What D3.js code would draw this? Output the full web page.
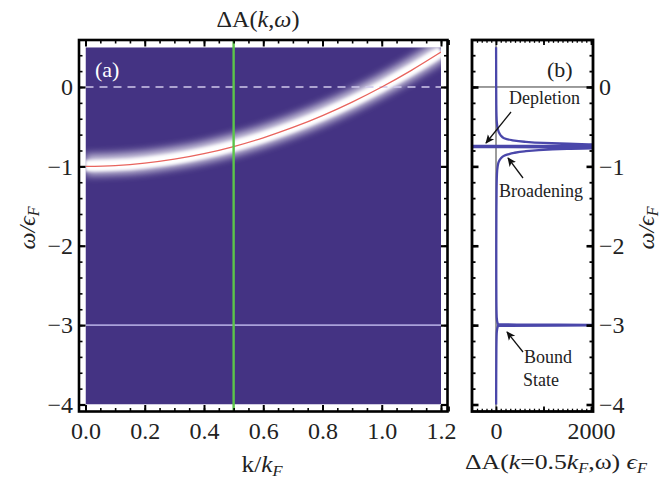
<!DOCTYPE html>
<html><head><meta charset="utf-8">
<script src="https://cdn.jsdelivr.net/npm/d3@7/dist/d3.min.js"></script>
<style>
html,body{margin:0;padding:0;background:#fff;}
svg{display:block;}
</style></head><body>
<svg id="chart" width="661" height="487"></svg>
<script>
// ---------- data ----------
const kVals        = [0, 0.1, 0.2, 0.3, 0.4, 0.5, 0.6, 0.7, 0.8, 0.9, 1.0, 1.1, 1.2];
const omegaDisp    = [-1.0, -0.99, -0.96, -0.91, -0.84, -0.75, -0.64, -0.51, -0.36, -0.19, 0.0, 0.21, 0.44];
const kCut         = 0.5;
const boundOmega   = -3;
const fermiOmega   = 0;
const omegaCut     = [0.5, 0.2, 0.0, -0.2, -0.35, -0.45, -0.52, -0.57, -0.61, -0.645, -0.67, -0.69, -0.705, -0.72, -0.735, -0.75, -0.765, -0.78, -0.795, -0.81, -0.83, -0.85, -0.87, -0.9, -0.94, -1.0, -1.1, -1.3, -1.6, -2.0, -2.4, -2.7, -2.9, -2.99, -3.0, -3.01, -3.1, -3.3, -3.6, -4.0];
const deltaA       = [2, 3, 4, 6, 10, 18, 35, 60, 100, 170, 330, 600, 1000, 1800, 2600, -2600, 2600, 1500, 900, 600, 380, 250, 160, 100, 60, 35, 20, 12, 8, 6, 6, 8, 15, 40, 2600, 40, 15, 8, 5, 3];
const kTicks       = [0, 0.2, 0.4, 0.6, 0.8, 1.0, 1.2];
const kMinor       = d3.range(0, 1.2001, 0.05);
const omegaTicks   = [0, -1, -2, -3, -4];
const omegaMinor   = d3.range(-4, 0.5001, 0.2);
const dATicks      = [0, 2000];
const dAMajor      = [-1000, 0, 1000, 2000];
const dAMinor      = d3.range(-400, 2001, 100);

// ---------- layout ----------
const SERIF = "Liberation Serif";
const INK = "#222";
const svg = d3.select("#chart");
const frameA = {l: 79, r: 447.5, t: 40, b: 411.5};
const frameB = {l: 472, r: 593, t: 40, b: 411.5};
const xA = d3.scaleLinear([0, 1.2], [85.5, 441]);
const yW = d3.scaleLinear([-4, 0.5], [404.5, 47.3]);
const xB = d3.scaleLinear([0, 2000], [496, 591]);

const defs = svg.append("defs");
defs.append("clipPath").attr("id", "clipA").append("rect")
  .attr("x", xA(0)).attr("y", yW(0.5)).attr("width", xA(1.2) - xA(0)).attr("height", yW(-4) - yW(0.5));
defs.append("clipPath").attr("id", "clipB").append("rect")
  .attr("x", frameB.l + 1).attr("y", frameB.t + 1).attr("width", frameB.r - frameB.l - 2).attr("height", frameB.b - frameB.t - 2);
const f1 = defs.append("filter").attr("id", "blurWide").attr("x", "-20%").attr("y", "-50%").attr("width", "140%").attr("height", "200%");
f1.append("feGaussianBlur").attr("stdDeviation", 4);
const f2 = defs.append("filter").attr("id", "blurCore").attr("x", "-20%").attr("y", "-50%").attr("width", "140%").attr("height", "200%");
f2.append("feGaussianBlur").attr("stdDeviation", 1.5);
const arrowM = defs.append("marker").attr("id", "arr").attr("viewBox", "0 0 10 10")
  .attr("refX", 9).attr("refY", 5).attr("markerWidth", 9).attr("markerHeight", 9)
  .attr("orient", "auto").attr("markerUnits", "userSpaceOnUse");
arrowM.append("path").attr("d", "M0,0.5 L10,5 L0,9.5 L2.5,5 Z").attr("fill", "#111");

// ---------- panel (a) ----------
const gA = svg.append("g");
const heat = gA.append("g").attr("clip-path", "url(#clipA)");
heat.append("rect").attr("x", xA(0)).attr("y", yW(0.5))
  .attr("width", xA(1.2) - xA(0)).attr("height", yW(-4) - yW(0.5)).attr("fill", "#443383");

const dispPts = kVals.map((k, i) => [xA(k), yW(omegaDisp[i])]);
const lineA = d3.line().curve(d3.curveCatmullRom);
heat.append("path").attr("d", lineA(dispPts)).attr("fill", "none")
  .attr("stroke", "#ffffff").attr("stroke-width", 20).attr("opacity", 0.8)
  .attr("filter", "url(#blurWide)").attr("transform", "translate(0,-1.5)");
heat.append("path").attr("d", lineA(dispPts)).attr("fill", "none")
  .attr("stroke", "#ffffff").attr("stroke-width", 11).attr("filter", "url(#blurCore)")
  .attr("transform", "translate(0,-0.5)");
heat.append("line").attr("x1", xA(0)).attr("x2", xA(1.2)).attr("y1", yW(boundOmega)).attr("y2", yW(boundOmega))
  .attr("stroke", "#aaa2da").attr("stroke-width", 1.8);
heat.append("line").attr("x1", xA(0)).attr("x2", xA(1.2)).attr("y1", yW(fermiOmega)).attr("y2", yW(fermiOmega))
  .attr("stroke", "#cfc9ec").attr("stroke-width", 1.3).attr("stroke-dasharray", "8,6");
heat.append("path").attr("d", lineA(dispPts)).attr("fill", "none")
  .attr("stroke", "#e8645e").attr("stroke-width", 1.3);

gA.append("line").attr("x1", xA(kCut)).attr("x2", xA(kCut)).attr("y1", frameA.t).attr("y2", frameA.b)
  .attr("stroke", "#5bc54a").attr("stroke-width", 2.4);

gA.append("text").attr("x", 95).attr("y", 77).attr("font-size", 22).attr("font-family", SERIF)
  .attr("fill", "#fff").text("(a)");

function ticks(g, axisGen, scale, values, pos, size, w) {
  const ax = g.append("g").attr("transform", pos)
    .call(axisGen(scale).tickValues(values).tickSize(-size).tickFormat(""));
  ax.select(".domain").remove();
  ax.selectAll("line").attr("stroke", "#000").attr("stroke-width", w);
}
function labels(g, axisGen, scale, values, pos, pad, fmt, fs) {
  const ax = g.append("g").attr("transform", pos)
    .call(axisGen(scale).tickValues(values).tickSize(0).tickPadding(pad).tickFormat(fmt));
  ax.select(".domain").remove();
  ax.attr("font-family", SERIF).attr("font-size", fs);
  ax.selectAll("text").attr("font-size", fs).attr("font-family", SERIF).attr("fill", INK);
}
const fmtW = d => d < 0 ? "\u2212" + Math.abs(d) : String(d);

ticks(gA, d3.axisBottom, xA, kMinor, `translate(0,${frameA.b})`, 3.5, 1.6);
ticks(gA, d3.axisBottom, xA, kTicks, `translate(0,${frameA.b})`, 6.5, 2);
ticks(gA, d3.axisTop, xA, kMinor, `translate(0,${frameA.t})`, 3.5, 1.6);
ticks(gA, d3.axisTop, xA, kTicks, `translate(0,${frameA.t})`, 6.5, 2);
ticks(gA, d3.axisLeft, yW, omegaMinor, `translate(${frameA.l},0)`, 3.5, 1.6);
ticks(gA, d3.axisLeft, yW, omegaTicks, `translate(${frameA.l},0)`, 6.5, 2.2);
ticks(gA, d3.axisRight, yW, omegaMinor, `translate(${frameA.r},0)`, 3.5, 1.6);
ticks(gA, d3.axisRight, yW, omegaTicks, `translate(${frameA.r},0)`, 6.5, 2.2);
gA.append("rect").attr("x", frameA.l).attr("y", frameA.t).attr("width", frameA.r - frameA.l).attr("height", frameA.b - frameA.t)
  .attr("fill", "none").attr("stroke", "#000").attr("stroke-width", 2.6);
labels(gA, d3.axisBottom, xA, kTicks, `translate(0,${frameA.b})`, 10.5, d3.format(".1f"), 24);
labels(gA, d3.axisLeft, yW, omegaTicks, `translate(${frameA.l},0)`, 6, fmtW, 24);

// ---------- panel (b) ----------
const gB = svg.append("g");
const plotB = gB.append("g").attr("clip-path", "url(#clipB)");
plotB.append("line").attr("x1", frameB.l).attr("x2", frameB.r).attr("y1", yW(0)).attr("y2", yW(0))
  .attr("stroke", "#222").attr("stroke-width", 0.9);
plotB.append("line").attr("x1", xB(0)).attr("x2", xB(0)).attr("y1", frameB.t).attr("y2", frameB.b)
  .attr("stroke", "#222").attr("stroke-width", 0.9);
const lineB = d3.line().curve(d3.curveMonotoneY);
plotB.append("path").attr("d", lineB(omegaCut.map((w, i) => [xB(deltaA[i]), yW(w)])))
  .attr("fill", "none").attr("stroke", "#4a47aa").attr("stroke-width", 2.3);

ticks(gB, d3.axisBottom, xB, dAMinor, `translate(0,${frameB.b})`, 2.8, 1.3);
ticks(gB, d3.axisBottom, xB, dAMajor, `translate(0,${frameB.b})`, 5, 1.8);
ticks(gB, d3.axisTop, xB, dAMinor, `translate(0,${frameB.t})`, 2.8, 1.3);
ticks(gB, d3.axisTop, xB, dAMajor, `translate(0,${frameB.t})`, 5, 1.8);
ticks(gB, d3.axisLeft, yW, omegaMinor, `translate(${frameB.l},0)`, 3.5, 1.8);
ticks(gB, d3.axisLeft, yW, omegaTicks, `translate(${frameB.l},0)`, 6.5, 2.6);
ticks(gB, d3.axisRight, yW, omegaMinor, `translate(${frameB.r},0)`, 3.5, 1.8);
ticks(gB, d3.axisRight, yW, omegaTicks, `translate(${frameB.r},0)`, 6.5, 2.6);
gB.append("rect").attr("x", frameB.l).attr("y", frameB.t).attr("width", frameB.r - frameB.l).attr("height", frameB.b - frameB.t)
  .attr("fill", "none").attr("stroke", "#000").attr("stroke-width", 2.8);
labels(gB, d3.axisBottom, xB, dATicks, `translate(0,${frameB.b})`, 10.5, d3.format("d"), 24);
labels(gB, d3.axisRight, yW, omegaTicks, `translate(${frameB.r},0)`, 6, fmtW, 24);

const ann = [["(b)", 547, 77, 22], ["Depletion", 509, 104, 18], ["Broadening", 499, 197, 18], ["Bound", 524, 363, 18], ["State", 523, 386, 18]];
gB.selectAll("text.ann").data(ann).enter().append("text").attr("class", "ann")
  .attr("x", d => d[1]).attr("y", d => d[2]).attr("font-size", d => d[3])
  .attr("font-family", SERIF).attr("fill", INK).text(d => d[0]);
const arrows = [[511, 112, 486, 143], [523, 178, 508, 158], [523, 352, 507, 332]];
gB.selectAll("line.arrow").data(arrows).enter().append("line").attr("class", "arrow")
  .attr("x1", d => d[0]).attr("y1", d => d[1]).attr("x2", d => d[2]).attr("y2", d => d[3])
  .attr("stroke", "#111").attr("stroke-width", 1.3).attr("marker-end", "url(#arr)");

// ---------- titles & axis labels ----------
function txt(x, y, fs, sx) {
  return svg.append("text").attr("transform", `translate(${x},${y}) scale(${sx},1)`)
    .attr("text-anchor", "middle").attr("font-size", fs).attr("font-family", SERIF).attr("fill", INK);
}
const t = txt(258, 27, 23, 1.05);
t.append("tspan").text("\u0394A(");
t.append("tspan").attr("font-style", "italic").text("k");
t.append("tspan").text(",");
t.append("tspan").attr("font-style", "italic").text("\u03C9");
t.append("tspan").text(")");

const xl = txt(262, 472, 23, 1.1);
xl.append("tspan").text("k/");
xl.append("tspan").attr("font-style", "italic").text("k");
xl.append("tspan").attr("font-style", "italic").attr("font-size", 15).attr("dy", 4).text("F");

const xl2 = txt(556, 469, 22, 1.17);
xl2.append("tspan").text("\u0394A(");
xl2.append("tspan").attr("font-style", "italic").text("k");
xl2.append("tspan").text("=0.5");
xl2.append("tspan").attr("font-style", "italic").text("k");
xl2.append("tspan").attr("font-style", "italic").attr("font-size", 14).attr("dy", 4).text("F");
xl2.append("tspan").attr("dy", -4).text(",\u03C9) ");
xl2.append("tspan").attr("font-style", "italic").text("\u03F5");
xl2.append("tspan").attr("font-style", "italic").attr("font-size", 14).attr("dy", 4).text("F");

function yLabel(x, y) {
  const g = svg.append("text").attr("transform", `translate(${x},${y}) rotate(-90)`)
    .attr("text-anchor", "middle").attr("font-size", 24).attr("font-family", SERIF).attr("fill", INK);
  g.append("tspan").attr("font-style", "italic").text("\u03C9/\u03F5");
  g.append("tspan").attr("font-style", "italic").attr("font-size", 16).attr("dy", 4).text("F");
}
yLabel(35, 228);
yLabel(654, 228);
</script>
</body></html>
